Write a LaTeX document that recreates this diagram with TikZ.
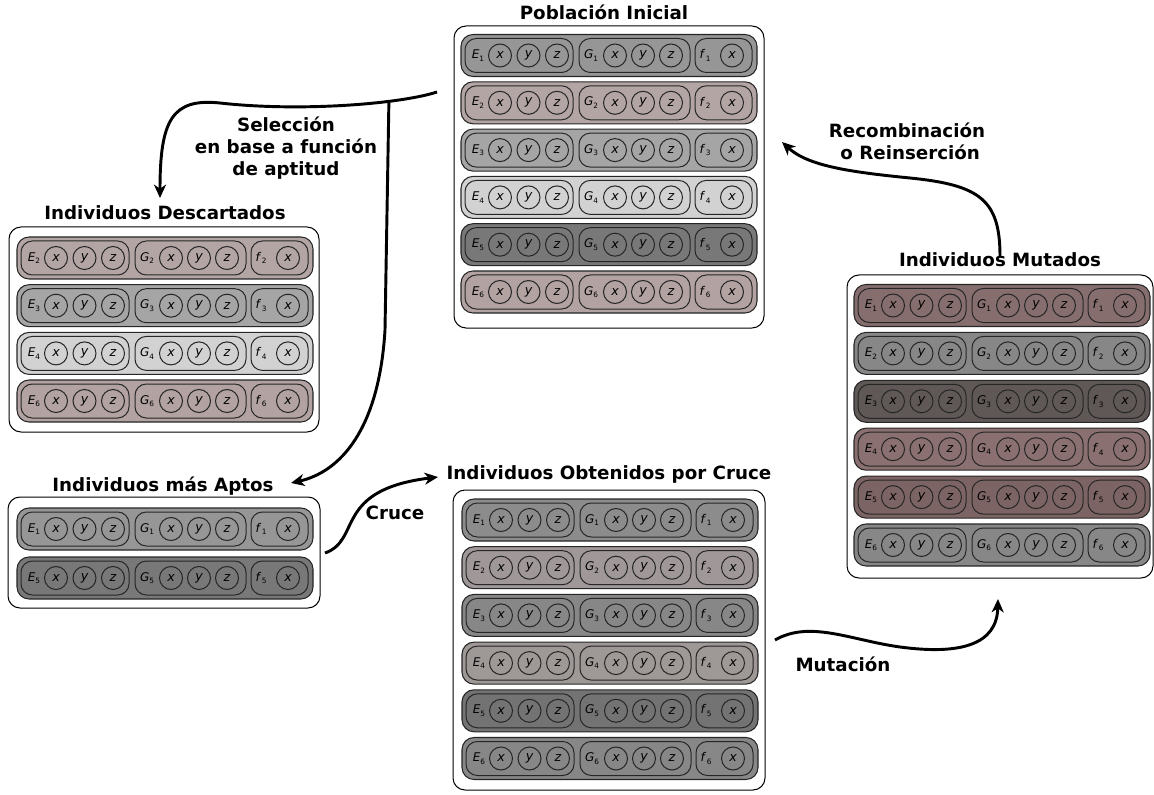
\documentclass[tikz,border=0pt]{standalone}
\usepackage{fontspec}
\setmainfont{DejaVu Sans}
\usetikzlibrary{arrows.meta,calc}

\definecolor{pGray}{HTML}{969696}
\definecolor{pPink}{HTML}{B4A5A5}
\definecolor{pMid}{HTML}{A5A5A5}
\definecolor{pLight}{HTML}{D2D2D2}
\definecolor{pDark}{HTML}{787878}
\definecolor{pPinkB}{HTML}{B2A2A2}
\definecolor{cA}{HTML}{8C8C8C}
\definecolor{cB}{HTML}{A09898}
\definecolor{cC}{HTML}{878787}
\definecolor{cD}{HTML}{9E9896}
\definecolor{cE}{HTML}{737373}
\definecolor{mA}{HTML}{876E6E}
\definecolor{mB}{HTML}{878787}
\definecolor{mC}{HTML}{5F5856}
\definecolor{mD}{HTML}{8A7070}
\definecolor{mE}{HTML}{7D6464}

\tikzset{
  x=0.75pt, y=-0.75pt,
  panel/.style={draw=black, line width=0.75pt, rounded corners=9pt, fill=white, inner sep=0pt},
  rowbox/.style={draw=black!85, line width=0.8pt, rounded corners=9pt, minimum width=222pt, minimum height=31.5pt, inner sep=0pt},
  grp/.style={draw=black!85, line width=0.75pt, rounded corners=8.5pt, minimum height=25.5pt, inner sep=0pt},
  cir/.style={circle, draw=black!85, line width=0.75pt, minimum size=17.25pt, inner sep=0pt, font=\fontsize{9.5}{9.5}\selectfont\itshape},
  lbl/.style={inner sep=0pt, font=\fontsize{9}{9}\selectfont\itshape},
  ttl/.style={font=\fontsize{13.7}{16.5}\selectfont\bfseries, inner sep=0pt, align=center},
  flow/.style={line width=2.2pt, -{Stealth[length=10pt,width=9pt,inset=3pt]}},
}

\newcommand\sbs[1]{\raisebox{-0.4ex}{\fontsize{5.5}{5.5}\selectfont\upshape #1}}
% name, left x, center y, index, colour
\newcommand\indiv[5]{%
  \begin{scope}[shift={(#2,#3)}]
    \node[rowbox, fill=#5] (#1) at (148,0) {};
    \node[grp, minimum width=81pt] (#1-E) at (58,0) {};
    \node[grp, minimum width=83.25pt] (#1-G) at (173.5,0) {};
    \node[grp, minimum width=42.75pt] (#1-f) at (262.5,0) {};
    \node[lbl] (#1-El) at (17,0) {E\sbs{#4}};
    \node[cir] (#1-Ex) at (39,0) {x};
    \node[cir] (#1-Ey) at (67.5,0) {y};
    \node[cir] (#1-Ez) at (96,0) {z};
    \node[lbl] (#1-Gl) at (130,0) {G\sbs{#4}};
    \node[cir] (#1-Gx) at (154,0) {x};
    \node[cir] (#1-Gy) at (182,0) {y};
    \node[cir] (#1-Gz) at (210,0) {z};
    \node[lbl] (#1-fl) at (244,0) {f\,\sbs{#4}};
    \node[cir] (#1-fx) at (271,0) {x};
  \end{scope}}

\begin{document}
\begin{tikzpicture}
\useasboundingbox[fill=white] (0,0) rectangle (1154,795);

% panels
\node[panel, minimum width=232.5pt, minimum height=226.5pt] (pob) at (609,177) {};
\node[panel, minimum width=232.5pt, minimum height=153.75pt] (desc) at (164,329.5) {};
\node[panel, minimum width=234pt, minimum height=83.25pt] (apt) at (164,552.5) {};
\node[panel, minimum width=234pt, minimum height=225pt] (cru) at (609,640) {};
\node[panel, minimum width=229.5pt, minimum height=227.25pt] (mut) at (1000,426.5) {};

% titles
\node[ttl] (tpob) at (604,12) {Población Inicial};
\node[ttl] (tdesc) at (165,213) {Individuos Descartados};
\node[ttl] (tapt) at (163,486) {Individuos más Aptos};
\node[ttl] (tcru) at (609,474) {Individuos Obtenidos por Cruce};
\node[ttl] (tmut) at (1000,260) {Individuos Mutados};

% Poblacion inicial
\indiv{p1}{461}{55.5}{1}{pGray}
\indiv{p2}{461}{102.8}{2}{pPink}
\indiv{p3}{461}{150.1}{3}{pMid}
\indiv{p4}{461}{197.4}{4}{pLight}
\indiv{p5}{461}{244.7}{5}{pDark}
\indiv{p6}{461}{292}{6}{pPinkB}

% Descartados
\indiv{d2}{17}{258}{2}{pPink}
\indiv{d3}{17}{305.7}{3}{pMid}
\indiv{d4}{17}{353.4}{4}{pLight}
\indiv{d6}{17}{401}{6}{pPinkB}

% Aptos
\indiv{a1}{17}{529}{1}{pGray}
\indiv{a5}{17}{578}{5}{pDark}

% Cruce
\indiv{c1}{462}{520}{1}{cA}
\indiv{c2}{462}{567.7}{2}{cB}
\indiv{c3}{462}{615.4}{3}{cC}
\indiv{c4}{462}{663.1}{4}{cD}
\indiv{c5}{462}{710.8}{5}{cE}
\indiv{c6}{462}{758.5}{6}{cC}

% Mutados
\indiv{m1}{854}{305.5}{1}{mA}
\indiv{m2}{854}{353.4}{2}{mB}
\indiv{m3}{854}{401.3}{3}{mC}
\indiv{m4}{854}{449.2}{4}{mD}
\indiv{m5}{854}{497.1}{5}{mE}
\indiv{m6}{854}{545}{6}{mB}

% connector ends
\coordinate (selS) at (437,92);
\coordinate (selJ) at (388.9,101.4);
\coordinate (selE) at (160,198);
\coordinate (aptE) at (291,483);
\coordinate (cruS) at (325,553);
\coordinate (cruE) at (438,477);
\coordinate (mutS) at (775,640);
\coordinate (mutE) at (998,599);
\coordinate (recS) at (1000,256);
\coordinate (recE) at (782,142);

\draw[flow] (selS) .. controls (400,104) and (300,112) .. (220,103)
  .. controls (172,98) and (160,120) .. (selE);
\draw[flow] (selJ) -- (385,330) .. controls (379,430) and (340,472) .. (aptE);
\draw[flow] (cruS) .. controls (362,540) and (333,490) .. (cruE);
\draw[flow] (mutS) .. controls (810,620) and (850,640) .. (900,647)
  .. controls (960,655) and (997,645) .. (mutE);
\draw[flow] (recS) .. controls (1000,200) and (980,185) .. (910,178)
  .. controls (850,172) and (808,166) .. (recE);

% labels
\node[ttl] (lsel) at (286,148) {Selección\\en base a función\\de aptitud};
\node[ttl] (lcru) at (395,513) {Cruce};
\node[ttl] (lmut) at (843,664) {Mutación};
\node[ttl] (lrec) at (907,141) {Recombinación\\\ o Reinserción};
\end{tikzpicture}
\end{document}
